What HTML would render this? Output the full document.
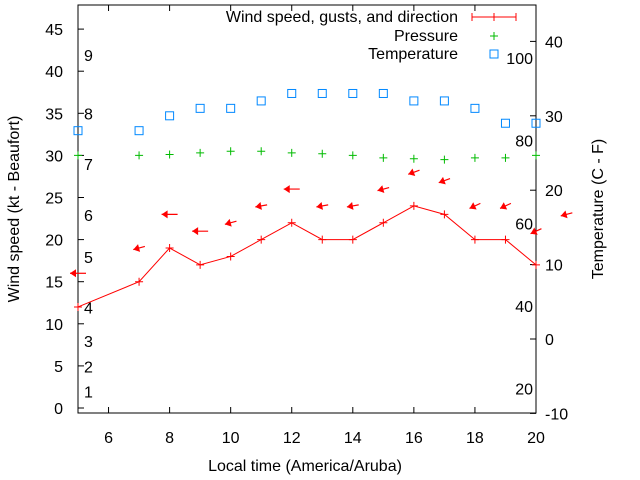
<!DOCTYPE html>
<html><head><meta charset="utf-8"><style>
body{margin:0;background:#fff}
svg{display:block;font-family:"Liberation Sans",sans-serif;font-size:16px}
</style></head><body>
<svg id="chart" width="640" height="480" viewBox="0 0 640 480" xmlns="http://www.w3.org/2000/svg">
<g id="axes"></g>
<g id="marks"></g>
<text x="305" y="471" text-anchor="middle">Local time (America/Aruba)</text>
<text transform="translate(19,209) rotate(-90)" text-anchor="middle">Wind speed (kt - Beaufort)</text>
<text transform="translate(603,209) rotate(-90)" text-anchor="middle">Temperature (C - F)</text>
<g>
<text x="458" y="22" text-anchor="end">Wind speed, gusts, and direction</text>
<path d="M472 17H516M472 13V21M516 13V21M494 13V21" stroke="#f00" stroke-width="1" fill="none"/>
<text x="458" y="41" text-anchor="end">Pressure</text>
<path d="M490 36H498M494 32V40" stroke="#0b0"/>
<text x="458" y="59" text-anchor="end">Temperature</text>
<rect x="490" y="50" width="8" height="8" fill="none" stroke="#08f"/>
</g>
</svg>
<script>
const hours=[5,7,8,9,10,11,12,13,14,15,16,17,18,19,20];
const windKt=[12,15,19,17,18,20,22,20,20,22,24,23,20,20,17];
const gustHours=[5,7,8,9,10,11,12,13,14,15,16,17,18,19,20,21];
const gustKt=[16,19,23,21,22,24,26,24,24,26,28,27,24,24,21,23];
const windDir=[90,75,90,90,75,80,90,80,80,75,70,70,65,65,65,75];
const pressure=[30.0,30.0,30.1,30.3,30.5,30.5,30.3,30.2,30.0,29.7,29.6,29.5,29.7,29.7,30.0];
const tempC=[28,28,30,31,31,32,33,33,33,33,32,32,31,29,29];
const xTicks=[6,8,10,12,14,16,18,20];
const yTicks=[0,5,10,15,20,25,30,35,40,45];
const cTicks=[-10,0,10,20,30,40];
const fLabels=[20,40,60,80,100];
const beaufort=[1,4,7,11,17,22,28,34,41];

const L=78,R=536,T=5,B=413;
const x=h=>L+(h-5)*(R-L)/15;
const y=v=>408-v*8.42;
const yc=c=>339-c*7.44;
const NS="http://www.w3.org/2000/svg";
function mk(tag,parent,attrs){const e=document.createElementNS(NS,tag);for(const k in attrs)e.setAttribute(k,attrs[k]);parent.appendChild(e);return e;}
const ax=document.getElementById('axes'),mg=document.getElementById('marks');

const frame=mk('rect',ax,{x:L,y:T,width:R-L,height:B-T,fill:'none',stroke:'#000'});


xTicks.forEach(t=>{
 const p=mk('path',ax,{d:`M${x(t)} ${B}v-6M${x(t)} ${T}v6`,stroke:'#000'});
 
 
 const s=mk('text',ax,{x:x(t),y:443,'text-anchor':'middle'});s.textContent=t;
 
 
});
yTicks.forEach(t=>{
 const p=mk('path',ax,{d:`M${L} ${y(t)}h6`,stroke:'#000'});
 
 
 const s=mk('text',ax,{x:63,y:y(t)+6,'text-anchor':'end'});s.textContent=t;
 
 
});
cTicks.forEach(t=>{
 const p=mk('path',ax,{d:`M${R} ${yc(t)}h-6`,stroke:'#000'});
 
 
 const s=mk('text',ax,{x:545,y:yc(t)+6});s.textContent=t;
 
 
});
fLabels.forEach(f=>{
 const s=mk('text',ax,{x:533,y:yc((f-32)*5/9)+6,'text-anchor':'end'});s.textContent=f;
 
 
});
beaufort.forEach((k,i)=>{
 const s=mk('text',ax,{x:84,y:y(k)-2});s.textContent=i+1;
 
 
});

const line=mk('polyline',mg,{points:hours.map((h,i)=>x(h)+','+y(windKt[i])).join(' '),fill:'none',stroke:'#f00'});


hours.forEach((h,i)=>{
 const p=mk('path',mg,{d:`M${x(h)-4} ${y(windKt[i])}h8M${x(h)} ${y(windKt[i])-4}v8`,stroke:'#f00'});
 
 
});
gustHours.forEach((h,i)=>{
 const a=(90-windDir[i])*Math.PI/180;
 const long=windDir[i]===90?16:12;
 const ux=Math.cos(a),uy=-Math.sin(a);
 const px=x(h)-ux*long/2,py=y(gustKt[i])-uy*long/2;
 const tx=px+ux*long,ty=py+uy*long;
 const hx=px+ux*6,hy=py+uy*6;
 const g=mk('g',mg,{});
 
 
 mk('line',g,{x1:px,y1:py,x2:tx,y2:ty,stroke:'#f00','stroke-width':1.2});
 mk('polygon',g,{points:`${px},${py} ${hx-uy*4},${hy+ux*4} ${hx+uy*4},${hy-ux*4}`,fill:'#f00'});
});
hours.forEach((h,i)=>{
 const p=mk('path',mg,{d:`M${x(h)-4} ${y(pressure[i])}h8M${x(h)} ${y(pressure[i])-4}v8`,stroke:'#0b0'});
 
 
});
hours.forEach((h,i)=>{
 const r=mk('rect',mg,{x:x(h)-4,y:yc(tempC[i])-4,width:8,height:8,fill:'none',stroke:'#08f'});
 
 
});
</script>
</body></html>
